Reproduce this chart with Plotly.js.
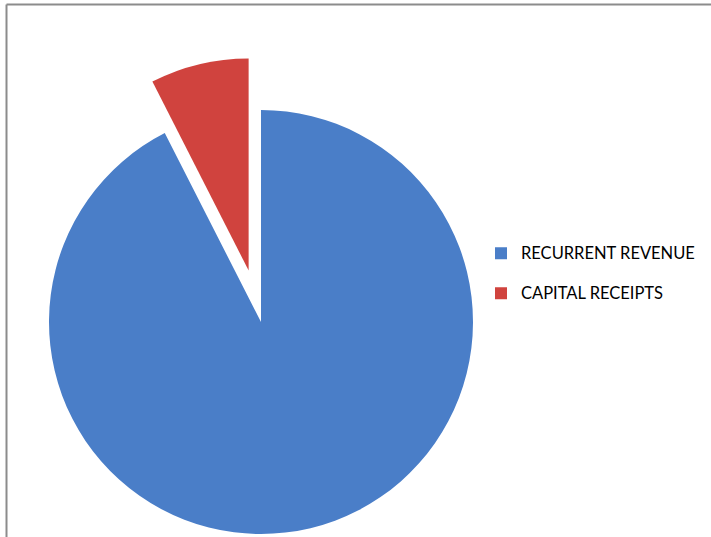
<!DOCTYPE html>
<html>
<head>
<meta charset="utf-8">
<script src="https://cdn.plot.ly/plotly-3.0.1.min.js"></script>
<style>
  html, body { margin: 0; padding: 0; width: 711px; height: 537px; overflow: hidden; background: #ffffff; }
  #chart { position: absolute; left: -20px; top: 0px; width: 731px; height: 620px; }
</style>
</head>
<body>
<div id="chart"></div>
<script>
// Data
var labels = ["RECURRENT REVENUE", "CAPITAL RECEIPTS"];
var values = [92.5, 7.5];
var pulls = [0, 0.25];
var colors = ["#4a7ec8", "#d0433e"];

var W = 731, H = 620;

// legend labels: larger visible text plus an empty second line to reproduce the wide row spacing
var legendLabels = labels.map(function (s) {
  return '<span style="font-size:16.5px">' + s + '</span><br>\u00a0';
});

var trace = {
  type: "pie",
  labels: legendLabels,
  values: values,
  pull: pulls,
  sort: false,
  direction: "clockwise",
  rotation: 0,
  textinfo: "none",
  hoverinfo: "none",
  marker: { colors: colors, line: { width: 0 } },
  domain: { x: [16 / W, 546 / W], y: [1 - 587 / H, 1 - 57 / H] }
};

var layout = {
  width: W,
  height: H,
  autosize: false,
  margin: { l: 0, r: 0, t: 0, b: 0, pad: 0 },
  paper_bgcolor: "#ffffff",
  plot_bgcolor: "#ffffff",
  showlegend: true,
  legend: {
    x: (541 - 40) / W,
    xanchor: "left",
    y: 1 - 237.5 / H,
    yanchor: "top",
    valign: "top",
    bgcolor: "rgba(0,0,0,0)",
    font: { family: "Lato, 'Open Sans', sans-serif", size: 14.23, color: "#000000" }
  },
  shapes: [
    { type: "line", xref: "paper", yref: "paper", x0: 26.5 / W, x1: 1, y0: 1 - 4.5 / H, y1: 1 - 4.5 / H,
      line: { color: "#8c8c8c", width: 2 } },
    { type: "line", xref: "paper", yref: "paper", x0: 26.5 / W, x1: 26.5 / W, y0: 0, y1: 1 - 4.5 / H,
      line: { color: "#8c8c8c", width: 2 } }
  ]
};

Plotly.newPlot("chart", [trace], layout, { displayModeBar: false, staticPlot: true });
</script>
</body>
</html>
